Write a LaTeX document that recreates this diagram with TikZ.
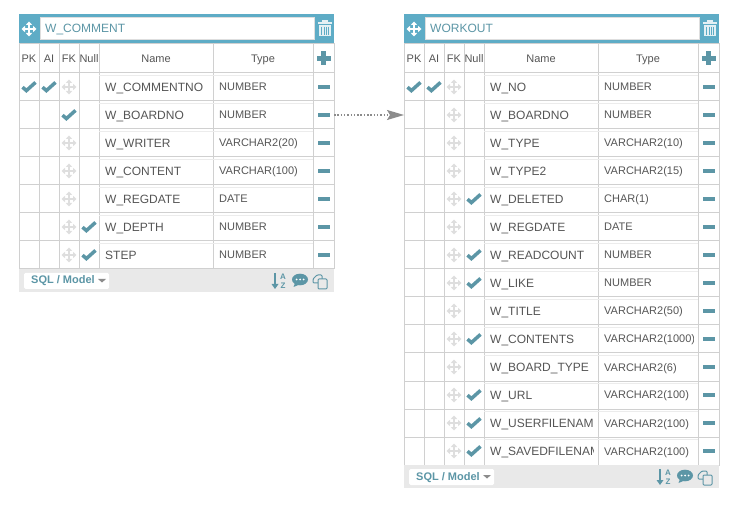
\documentclass[tikz,border=0pt]{standalone}
\usepackage{fontspec}
\setmainfont{Liberation Sans}
\usetikzlibrary{arrows.meta,calc}
\definecolor{bandblue}{RGB}{94,172,198}
\definecolor{iconteal}{RGB}{92,150,166}
\definecolor{gridgray}{RGB}{208,208,208}
\definecolor{textgray}{RGB}{85,85,85}
\definecolor{footgray}{RGB}{233,233,233}
\definecolor{lidwhite}{RGB}{228,240,244}

\tikzset{
  cellbox/.style={draw=gridgray,line width=1pt,inner sep=0pt,outer sep=0pt,minimum height=28pt},
  headcell/.style={cellbox,minimum height=29pt,text height=9pt,text depth=0pt,
    font=\fontsize{11}{13}\selectfont,text=textgray},
  rowtext/.style={anchor=base west,inner sep=0pt,text=textgray},
  band/.style={fill=bandblue,inner sep=0pt,outer sep=0pt,minimum height=30pt,minimum width=315pt},
  titlebox/.style={draw=gridgray!70,fill=white,line width=1pt,inner sep=0pt,outer sep=0pt,
    minimum height=22pt,minimum width=274pt},
  footbar/.style={fill=footgray,inner sep=0pt,outer sep=0pt,minimum height=23pt,minimum width=315pt},
  sqlbox/.style={fill=white,rounded corners=1.5pt,inner sep=0pt,minimum height=16pt,minimum width=85pt},
  relarrow/.style={-{Stealth[length=17pt,width=10pt,inset=3pt]},dash pattern=on 1.5pt off 1.8pt,
    line width=1.4pt,color=black!45},
  pics/chkmark/.style={code={
    \draw[iconteal,line width=3.5pt] (-6.5,0.2) -- (-2.6,3.6) -- (6.5,-4.6);
  }},
  pics/moveicon/.style={code={
    \draw[#1,line width=1.6pt] (-5,0) -- (5,0) (0,-5) -- (0,5);
    \fill[#1] (-7.5,0) -- (-4,-3.2) -- (-4,3.2) -- cycle;
    \fill[#1] (7.5,0) -- (4,-3.2) -- (4,3.2) -- cycle;
    \fill[#1] (0,-7.5) -- (-3.2,-4) -- (3.2,-4) -- cycle;
    \fill[#1] (0,7.5) -- (-3.2,4) -- (3.2,4) -- cycle;
  }},
  pics/minusicon/.style={code={
    \fill[iconteal] (-6,-1.8) rectangle (6,1.8);
  }},
  pics/plusicon/.style={code={
    \fill[iconteal] (-7,-2.2) rectangle (7,2.2);
    \fill[iconteal] (-2.2,-7) rectangle (2.2,7);
  }},
  pics/trashicon/.style={code={
    \fill[lidwhite] (-7,-5.5) rectangle (7,-3.8);
    \fill[lidwhite] (-3,-8) rectangle (3,-5.5);
    \fill[lidwhite] (-6,-2.8) rectangle (6,8);
    \foreach \s in {-3.2,-1,1,3.2} \draw[bandblue,line width=.7pt] (\s,-1.4) -- (\s,6.6);
  }},
  pics/sorticon/.style={code={
    \draw[iconteal,line width=1.5pt] (-5,-8) -- (-5,4);
    \fill[iconteal] (-5,8) -- (-8.5,3) -- (-1.5,3) -- cycle;
    \node[font=\bfseries\fontsize{8}{8}\selectfont,text=iconteal,inner sep=0pt] (sortA) at (3,-4) {A};
    \node[font=\bfseries\fontsize{8}{8}\selectfont,text=iconteal,inner sep=0pt] (sortZ) at (3,4.5) {Z};
  }},
  pics/chaticon/.style={code={
    \fill[iconteal] (0,-0.5) ellipse (8 and 5.8);
    \fill[iconteal] (-5,3) -- (-6.5,7) -- (-0.5,4.5) -- cycle;
    \foreach \s in {-3.5,0,3.5} \fill[white] (\s,-0.5) circle (1);
  }},
  pics/copyicon/.style={code={
    \draw[iconteal,line width=1pt,rounded corners=1pt] (-2,1) -- (-7,1) -- (-7,-3) -- (-3,-7) -- (2,-7) -- (2,-3);
    \draw[iconteal,line width=1pt,rounded corners=1pt,fill=footgray] (-2,-3) -- (7,-3) -- (7,7) -- (-2,7) -- cycle;
  }}
}

% prefix, left edge, title, number of rows, rows
\newcommand{\ermtable}[5]{
  \node[band] (#1-band) at (#2+157.5,29) {};
  \pic at (#2+10,29) {moveicon=white};
  \node[titlebox] (#1-title) at (#2+158,29) {};
  \node[rowtext,text=iconteal,font=\fontsize{12}{14}\selectfont] (#1-titletext) at (#2+26,33) {#3};
  \pic at (#2+306,28) {trashicon};
  \node[headcell,minimum width=20pt] (#1-hpk) at (#2+10,58.5) {PK};
  \node[headcell,minimum width=20pt] (#1-hai) at (#2+30,58.5) {AI};
  \node[headcell,minimum width=20pt] (#1-hfk) at (#2+50,58.5) {FK};
  \node[headcell,minimum width=20pt] (#1-hnull) at (#2+70,58.5) {Null};
  \node[headcell,minimum width=114pt] (#1-hname) at (#2+137,58.5) {Name};
  \node[headcell,minimum width=100pt] (#1-htype) at (#2+244,58.5) {Type};
  \node[headcell,minimum width=21pt] (#1-hadd) at (#2+304.5,58.5) {};
  \pic at (#1-hadd) {plusicon};
  \foreach \rname/\rtype/\rpk/\rai/\rfk/\rnull [count=\i] in {#5} {
    \pgfmathsetmacro{\ry}{73+28*\i-14}
    \node[cellbox,minimum width=20pt] (#1-pk-\i) at (#2+10,\ry) {};
    \node[cellbox,minimum width=20pt] (#1-ai-\i) at (#2+30,\ry) {};
    \node[cellbox,minimum width=20pt] (#1-fk-\i) at (#2+50,\ry) {};
    \node[cellbox,minimum width=20pt] (#1-null-\i) at (#2+70,\ry) {};
    \node[cellbox,minimum width=114pt] (#1-name-\i) at (#2+137,\ry) {};
    \node[cellbox,minimum width=100pt] (#1-type-\i) at (#2+244,\ry) {};
    \node[cellbox,minimum width=21pt] (#1-del-\i) at (#2+304.5,\ry) {};
    \draw[gridgray!40] ($(#1-name-\i.north west)+(0,2.5)$) -- ($(#1-type-\i.north east)+(0,2.5)$);
    \begin{scope}
      \clip ($(#1-name-\i.north west)$) rectangle ($(#1-name-\i.south east)+(-5,0)$);
      \node[rowtext,font=\fontsize{12}{14}\selectfont] (#1-ntext-\i) at ($(#1-name-\i.west)+(6,4.3)$) {\rname};
    \end{scope}
    \begin{scope}
      \clip ($(#1-type-\i.north west)$) rectangle ($(#1-type-\i.south east)+(-5,0)$);
      \node[rowtext,font=\fontsize{11}{13}\selectfont] (#1-ttext-\i) at ($(#1-type-\i.west)+(6,4)$) {\rtype};
    \end{scope}
    \ifnum\rpk=1 \pic at (#1-pk-\i) {chkmark}; \fi
    \ifnum\rai=1 \pic at (#1-ai-\i) {chkmark}; \fi
    \ifnum\rfk=1 \pic at (#1-fk-\i) {chkmark}; \else \pic at (#1-fk-\i) {moveicon=black!13}; \fi
    \ifnum\rnull=1 \pic at (#1-null-\i) {chkmark}; \fi
    \pic at (#1-del-\i) {minusicon};
  }
  \pgfmathsetmacro{\fy}{73+28*#4+11.5}
  \node[footbar] (#1-foot) at (#2+157.5,\fy) {};
  \node[sqlbox] (#1-sql) at (#2+47.5,\fy+0.5) {};
  \node[rowtext,text=iconteal,font=\bfseries\fontsize{11}{13}\selectfont] (#1-sqltext) at (#2+12,\fy+3.5) {SQL / Model};
  \fill[black!45] (#2+79,\fy-1.5) -- (#2+87,\fy-1.5) -- (#2+83,\fy+2) -- cycle;
  \pic at (#2+261,\fy+0.5) {sorticon};
  \pic at (#2+281,\fy-0.5) {chaticon};
  \pic at (#2+301,\fy+1.5) {copyicon};
}

\begin{document}
\begin{tikzpicture}[x=1pt,y=-1pt]
\useasboundingbox (0,0) rectangle (745,505);
\ermtable{comment}{19}{W\_COMMENT}{7}{
  W\_COMMENTNO/NUMBER/1/1/0/0,
  W\_BOARDNO/NUMBER/0/0/1/0,
  W\_WRITER/VARCHAR2(20)/0/0/0/0,
  W\_CONTENT/VARCHAR(100)/0/0/0/0,
  W\_REGDATE/DATE/0/0/0/0,
  W\_DEPTH/NUMBER/0/0/0/1,
  STEP/NUMBER/0/0/0/1}
\ermtable{workout}{404}{WORKOUT}{14}{
  W\_NO/NUMBER/1/1/0/0,
  W\_BOARDNO/NUMBER/0/0/0/0,
  W\_TYPE/VARCHAR2(10)/0/0/0/0,
  W\_TYPE2/VARCHAR2(15)/0/0/0/0,
  W\_DELETED/CHAR(1)/0/0/0/1,
  W\_REGDATE/DATE/0/0/0/0,
  W\_READCOUNT/NUMBER/0/0/0/1,
  W\_LIKE/NUMBER/0/0/0/1,
  W\_TITLE/VARCHAR2(50)/0/0/0/0,
  W\_CONTENTS/VARCHAR2(1000)/0/0/0/1,
  W\_BOARD\_TYPE/VARCHAR2(6)/0/0/0/0,
  W\_URL/VARCHAR2(100)/0/0/0/1,
  W\_USERFILENAM/VARCHAR2(100)/0/0/0/1,
  W\_SAVEDFILENAM/VARCHAR2(100)/0/0/0/1}
\draw[relarrow] (comment-del-2.east) -- (workout-pk-2.west);
\end{tikzpicture}
\end{document}
